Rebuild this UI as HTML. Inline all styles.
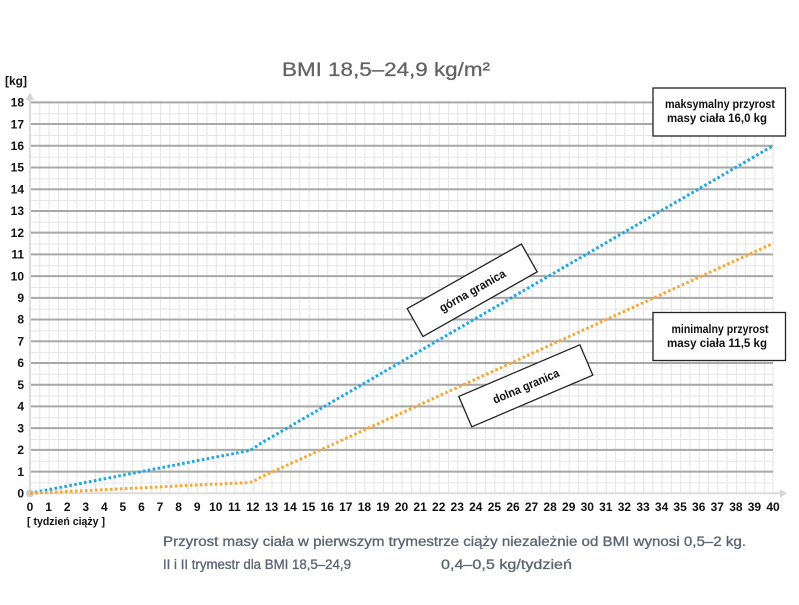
<!DOCTYPE html>
<html><head><meta charset="utf-8"><style>
html,body{margin:0;padding:0;background:#fff;}
svg{display:block;}
</style></head><body>
<svg width="799" height="605" viewBox="0 0 799 605" xmlns="http://www.w3.org/2000/svg" font-family="Liberation Sans, Arial, sans-serif">
<defs>
<pattern id="g" x="30" y="102.34" width="9.2875" height="10.86" patternUnits="userSpaceOnUse">
<path d="M0.5 0V10.86M0 0.5H9.2875" stroke="#e4e4e4" stroke-width="1" fill="none"/>
</pattern>
</defs>
<rect width="799" height="605" fill="#fff"/>
<text x="386" y="76" font-size="19" fill="#626262" text-anchor="middle" textLength="208" lengthAdjust="spacingAndGlyphs" stroke="#626262" stroke-width="0.25">BMI 18,5–24,9 kg/m²</text>
<rect x="30" y="102.34" width="743" height="391" fill="url(#g)"/>
<line x1="773" y1="102.34" x2="773" y2="493.3" stroke="#e4e4e4" stroke-width="1"/>
<path d="M30 471.58H773M30 449.86H773M30 428.14H773M30 406.42H773M30 384.7H773M30 362.98H773M30 341.26H773M30 319.54H773M30 297.82H773M30 276.1H773M30 254.38H773M30 232.66H773M30 210.94H773M30 189.22H773M30 167.5H773M30 145.78H773M30 124.06H773M30 102.34H773" stroke="#a8a8a8" stroke-width="2" fill="none"/>
<line x1="30" y1="493.3" x2="782" y2="493.3" stroke="#dcdcdc" stroke-width="2"/>
<line x1="30" y1="493.3" x2="30" y2="98" stroke="#dcdcdc" stroke-width="2"/>
<polygon points="26,100 34,100 30,92" fill="#d6d6d6"/>
<polygon points="780,489 780,497.6 787,493.3" fill="#d6d6d6"/>
<circle cx="30" cy="493.3" r="4" fill="#cfcfcf"/>
<path d="M30 493.3 L246 451.2 Q252.9 449.9 258 445 L773 145.8" stroke="#1ea7e4" stroke-width="3" fill="none" stroke-dasharray="2.6 2.4"/>
<path d="M30 493.3 L247 482.6 Q252.9 482.4 258 478.5 L773 243.5" stroke="#f6a835" stroke-width="3" fill="none" stroke-dasharray="2.6 2.4"/>
<g font-size="12" font-weight="bold" fill="#111" text-anchor="end">
<text x="24" y="497.5">0</text><text x="24" y="475.8">1</text><text x="24" y="454.1">2</text><text x="24" y="432.4">3</text><text x="24" y="410.6">4</text><text x="24" y="388.9">5</text><text x="24" y="367.2">6</text><text x="24" y="345.5">7</text><text x="24" y="323.7">8</text><text x="24" y="302">9</text><text x="24" y="280.3">10</text><text x="24" y="258.6">11</text><text x="24" y="236.9">12</text><text x="24" y="215.1">13</text><text x="24" y="193.4">14</text><text x="24" y="171.7">15</text><text x="24" y="150">16</text><text x="24" y="128.3">17</text><text x="24" y="106.5">18</text>
</g>
<text x="5" y="85" font-size="12" font-weight="bold" fill="#111">[kg]</text>
<g font-size="12" font-weight="bold" fill="#111" text-anchor="middle">
<text x="30" y="511">0</text><text x="48.6" y="511">1</text><text x="67.2" y="511">2</text><text x="85.7" y="511">3</text><text x="104.3" y="511">4</text><text x="122.9" y="511">5</text><text x="141.5" y="511">6</text><text x="160" y="511">7</text><text x="178.6" y="511">8</text><text x="197.2" y="511">9</text><text x="215.8" y="511">10</text><text x="234.3" y="511">11</text><text x="252.9" y="511">12</text><text x="271.5" y="511">13</text><text x="290.1" y="511">14</text><text x="308.6" y="511">15</text><text x="327.2" y="511">16</text><text x="345.8" y="511">17</text><text x="364.4" y="511">18</text><text x="382.9" y="511">19</text><text x="401.5" y="511">20</text><text x="420.1" y="511">21</text><text x="438.7" y="511">22</text><text x="457.2" y="511">23</text><text x="475.8" y="511">24</text><text x="494.4" y="511">25</text><text x="513" y="511">26</text><text x="531.5" y="511">27</text><text x="550.1" y="511">28</text><text x="568.7" y="511">29</text><text x="587.3" y="511">30</text><text x="605.8" y="511">31</text><text x="624.4" y="511">32</text><text x="643" y="511">33</text><text x="661.6" y="511">34</text><text x="680.1" y="511">35</text><text x="698.7" y="511">36</text><text x="717.3" y="511">37</text><text x="735.9" y="511">38</text><text x="754.4" y="511">39</text><text x="773" y="511">40</text>
</g>
<text x="27" y="525" font-size="11" font-weight="bold" fill="#111" textLength="78" lengthAdjust="spacingAndGlyphs">[ tydzień ciąży ]</text>
<rect x="653" y="88" width="132.5" height="48" fill="#fff" stroke="#222" stroke-width="1.3"/>
<text x="720" y="108" font-size="11.5" font-weight="bold" fill="#111" text-anchor="middle" textLength="110" lengthAdjust="spacingAndGlyphs">maksymalny przyrost</text>
<text x="717" y="122" font-size="11.5" font-weight="bold" fill="#111" text-anchor="middle" textLength="100" lengthAdjust="spacingAndGlyphs">masy ciała 16,0 kg</text>
<rect x="653" y="312.5" width="132.5" height="48" fill="#fff" stroke="#222" stroke-width="1.3"/>
<text x="720" y="333" font-size="11.5" font-weight="bold" fill="#111" text-anchor="middle" textLength="97" lengthAdjust="spacingAndGlyphs">minimalny przyrost</text>
<text x="717" y="347" font-size="11.5" font-weight="bold" fill="#111" text-anchor="middle" textLength="100" lengthAdjust="spacingAndGlyphs">masy ciała 11,5 kg</text>
<g transform="translate(472.2 290.3) rotate(-29.5)">
<rect x="-65.6" y="-16" width="131.2" height="32" fill="#fff" stroke="#222" stroke-width="1.3"/>
<text x="0" y="4.5" font-size="12" font-weight="bold" fill="#111" text-anchor="middle" textLength="74" lengthAdjust="spacingAndGlyphs">górna granica</text>
</g>
<g transform="translate(525.8 385.8) rotate(-23.1)">
<rect x="-65.8" y="-16.5" width="131.6" height="33" fill="#fff" stroke="#222" stroke-width="1.3"/>
<text x="0" y="4.5" font-size="12" font-weight="bold" fill="#111" text-anchor="middle" textLength="71" lengthAdjust="spacingAndGlyphs">dolna granica</text>
</g>
<g font-size="13.5" fill="#5a6472" stroke="#5a6472" stroke-width="0.3">
<text x="163" y="546" textLength="583" lengthAdjust="spacingAndGlyphs">Przyrost masy ciała w pierwszym trymestrze ciąży niezależnie od BMI wynosi 0,5–2 kg.</text>
<text x="163" y="569" textLength="188" lengthAdjust="spacingAndGlyphs">II i II trymestr dla BMI 18,5–24,9</text>
<text x="441" y="569" textLength="131" lengthAdjust="spacingAndGlyphs">0,4–0,5 kg/tydzień</text>
</g>
</svg>
</body></html>
